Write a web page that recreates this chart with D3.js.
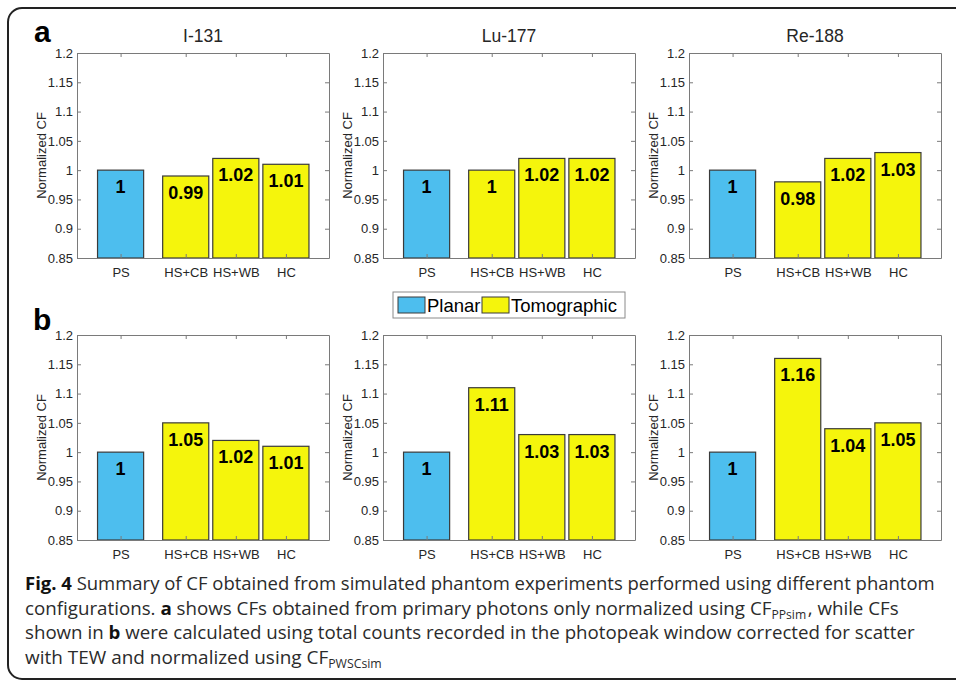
<!DOCTYPE html>
<html>
<head>
<meta charset="utf-8">
<script src="https://cdn.jsdelivr.net/npm/d3@7"></script>
<style>
  body { margin: 0; background: #fff; }
  svg { display: block; }
</style>
</head>
<body>
<div id="chart"></div>
<script>
// data
const isotopes = ["I-131", "Lu-177", "Re-188"];
const categories = ["PS", "HS+CB", "HS+WB", "HC"];
const catGroup = ["Planar", "Tomographic", "Tomographic", "Tomographic"];
const valuesA = [
  [1, 0.99, 1.02, 1.01],
  [1, 1, 1.02, 1.02],
  [1, 0.98, 1.02, 1.03]
];
const valuesB = [
  [1, 1.05, 1.02, 1.01],
  [1, 1.11, 1.03, 1.03],
  [1, 1.16, 1.04, 1.05]
];
const yTicks = [0.85, 0.9, 0.95, 1, 1.05, 1.1, 1.15, 1.2];
const legendLabels = ["Planar", "Tomographic"];

const width = 956;
const height = 683;
const axisFont = "'Liberation Sans', Arial, sans-serif";
const color = d3.scaleOrdinal().domain(legendLabels).range(["#4dbeee", "#f5f50c"]);

// bar slots on the x axis (PS sits apart from the others)
const slot = [1, 2.3, 3.3, 4.3];
const barWidth = 0.92;

const panelLeft = [77, 383, 689];
const panelW = 252;
const rowTop = [53, 335];
const panelH = 205;

const svg = d3.select("#chart")
  .append("svg")
  .attr("width", width)
  .attr("height", height);

// outer frame (runs off the right edge)
svg.append("rect")
  .attr("x", 8).attr("y", 8)
  .attr("width", 1000).attr("height", 671)
  .attr("rx", 14)
  .attr("fill", "none")
  .attr("stroke", "#222")
  .attr("stroke-width", 2);

const x = d3.scaleLinear().domain([0.13, 5.16]).range([0, panelW]);
const y = d3.scaleLinear().domain([0.85, 1.2]).range([panelH, 0]);

function drawPanel(left, top, vals, title) {
  const g = svg.append("g").attr("transform", `translate(${left},${top})`);

  // bars
  g.selectAll("rect.bar")
    .data(vals)
    .join("rect")
    .attr("class", "bar")
    .attr("x", (d, i) => x(slot[i] - barWidth / 2))
    .attr("width", x(barWidth) - x(0))
    .attr("y", d => y(d))
    .attr("height", d => panelH - y(d))
    .attr("fill", (d, i) => color(catGroup[i]))
    .attr("stroke", "#3a3a3a")
    .attr("stroke-width", 1.2);

  // value labels
  g.selectAll("text.val")
    .data(vals)
    .join("text")
    .attr("class", "val")
    .attr("x", (d, i) => x(slot[i]))
    .attr("y", d => y(d) + 23)
    .attr("text-anchor", "middle")
    .style("font-family", axisFont)
    .style("font-weight", "bold")
    .style("font-size", "18px")
    .attr("fill", "#000")
    .text(d => String(d));

  // axes, box style with inward ticks
  const left_ = g.append("g")
    .call(d3.axisLeft(y).tickValues(yTicks).tickSizeInner(-4).tickSizeOuter(0).tickPadding(4)
      .tickFormat(d => String(+d.toFixed(2))));
  const right_ = g.append("g").attr("transform", `translate(${panelW},0)`)
    .call(d3.axisRight(y).tickValues(yTicks).tickSizeInner(-4).tickSizeOuter(0).tickFormat(""));
  const top_ = g.append("g")
    .call(d3.axisTop(x).tickValues(slot).tickSizeInner(-4).tickSizeOuter(0).tickFormat(""));
  const bottom_ = g.append("g").attr("transform", `translate(0,${panelH})`)
    .call(d3.axisBottom(x).tickValues(slot).tickSizeInner(-4).tickSizeOuter(0).tickPadding(10)
      .tickFormat((d, i) => categories[i]));

  [left_, right_, top_, bottom_].forEach(a => {
    a.select(".domain").attr("stroke", "#7a7a7a");
    a.selectAll(".tick line").attr("stroke", "#7a7a7a");
    a.selectAll("text")
      .style("font-family", axisFont)
      .style("font-size", "13px")
      .attr("fill", "#262626");
  });

  // y label
  g.append("text")
    .attr("transform", `translate(-31,${panelH / 2}) rotate(-90)`)
    .attr("text-anchor", "middle")
    .style("font-family", axisFont)
    .style("font-size", "13px")
    .attr("fill", "#262626")
    .text("Normalized CF");

  if (title) {
    g.append("text")
      .attr("x", panelW / 2)
      .attr("y", -11)
      .attr("text-anchor", "middle")
      .style("font-family", axisFont)
      .style("font-size", "17.5px")
      .attr("fill", "#262626")
      .text(title);
  }
}

isotopes.forEach((iso, k) => {
  drawPanel(panelLeft[k], rowTop[0], valuesA[k], iso);
  drawPanel(panelLeft[k], rowTop[1], valuesB[k], null);
});

// panel letters
svg.append("text").attr("x", 34).attr("y", 42)
  .style("font-family", axisFont).style("font-weight", "bold").style("font-size", "30px")
  .text("a");
svg.append("text").attr("x", 33).attr("y", 330)
  .style("font-family", axisFont).style("font-weight", "bold").style("font-size", "30px")
  .text("b");

// legend
const legend = svg.append("g").attr("transform", "translate(393,292)");
legend.append("rect")
  .attr("width", 232).attr("height", 26)
  .attr("fill", "#fff").attr("stroke", "#8a8a8a");
const legendX = [5, 89];
legendLabels.forEach((lab, i) => {
  legend.append("rect")
    .attr("x", legendX[i]).attr("y", 5)
    .attr("width", 27).attr("height", 16)
    .attr("fill", color(lab)).attr("stroke", "#3a3a3a");
  legend.append("text")
    .attr("x", legendX[i] + 29).attr("y", 20)
    .style("font-family", axisFont).style("font-size", "18.5px")
    .attr("fill", "#000")
    .text(lab);
});

// caption
const captionLines = [
  [["Fig. 4", "b"], [" Summary of CF obtained from simulated phantom experiments performed using different phantom", ""]],
  [["configurations. ", ""], ["a", "b"], [" shows CFs obtained from primary photons only normalized using CF", ""], ["PPsim", "sub"], [", while CFs", ""]],
  [["shown in ", ""], ["b", "b"], [" were calculated using total counts recorded in the photopeak window corrected for scatter", ""]],
  [["with TEW and normalized using CF", ""], ["PWSCsim", "sub"]]
];
const captionY = [590, 615, 639, 664];
const captionW = [910, 873, 890, 357];
const capX = 25;
captionLines.forEach((parts, li) => {
  const t = svg.append("text")
    .attr("x", 0).attr("y", 0)
    .style("font-family", "'Open Sans', 'Noto Sans', sans-serif")
    .style("font-size", "18.5px")
    .attr("fill", "#2b2b2b");
  let shifted = false;
  parts.forEach(([s, kind]) => {
    const ts = t.append("tspan").text(s);
    if (kind === "b") ts.style("font-weight", "bold").attr("fill", "#111");
    if (kind === "sub") {
      ts.style("font-size", "12px").attr("dy", 4);
      shifted = true;
    } else if (shifted) {
      ts.attr("dy", -4).attr("dx", 1.5);
      shifted = false;
    }
  });
  const sx = captionW[li] / t.node().getComputedTextLength();
  t.attr("transform", `translate(${capX},${captionY[li]}) scale(${sx},1)`);
});
</script>
</body>
</html>
